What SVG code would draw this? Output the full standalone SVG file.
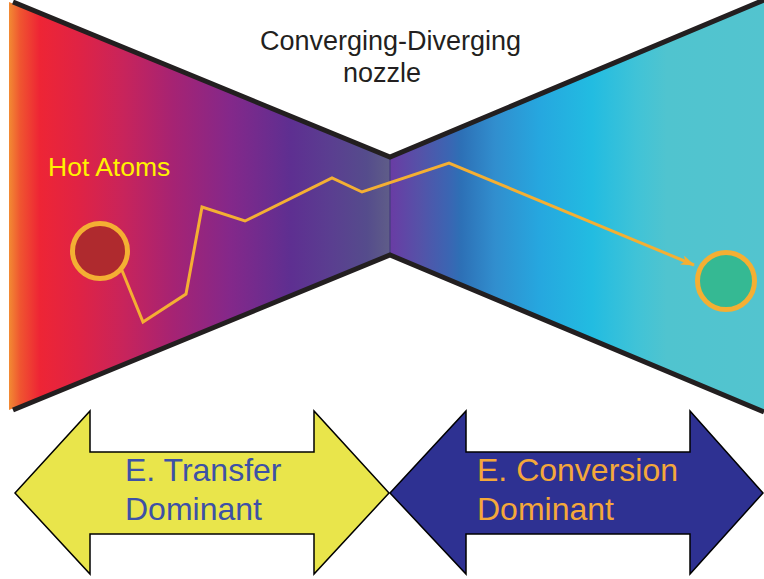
<svg xmlns="http://www.w3.org/2000/svg" width="764" height="579" viewBox="0 0 764 579">
  <style>
    .wall { fill: none; stroke: #231F20; stroke-width: 5; stroke-linejoin: miter; }
    .atom { stroke: #F4AF33; stroke-width: 5; }
    .path { fill: none; stroke: #F4AF33; stroke-width: 3; stroke-linejoin: miter; }
    .big { stroke: #000; stroke-width: 1.5; stroke-linejoin: miter; }
    .label { font-family: "Liberation Sans", Arial, sans-serif; }
  </style>
  <defs>
    <linearGradient id="gradConverge" gradientUnits="userSpaceOnUse" x1="9" y1="0" x2="390" y2="0">
      <stop offset="0" stop-color="#F28A33"/>
      <stop offset="0.03" stop-color="#EF5430"/>
      <stop offset="0.08" stop-color="#EE2535"/>
      <stop offset="0.18" stop-color="#E02344"/>
      <stop offset="0.30" stop-color="#C8245B"/>
      <stop offset="0.43" stop-color="#A62373"/>
      <stop offset="0.58" stop-color="#84288A"/>
      <stop offset="0.74" stop-color="#5E2F91"/>
      <stop offset="0.85" stop-color="#5A3F90"/>
      <stop offset="0.94" stop-color="#554C8C"/>
      <stop offset="1" stop-color="#5F5D88"/>
    </linearGradient>
    <linearGradient id="gradDiverge" gradientUnits="userSpaceOnUse" x1="390" y1="0" x2="764" y2="0">
      <stop offset="0" stop-color="#6A3CA4"/>
      <stop offset="0.08" stop-color="#5552A8"/>
      <stop offset="0.16" stop-color="#3A66B3"/>
      <stop offset="0.19" stop-color="#2D70B6"/>
      <stop offset="0.28" stop-color="#318ECE"/>
      <stop offset="0.40" stop-color="#26A7DF"/>
      <stop offset="0.54" stop-color="#22BCE1"/>
      <stop offset="0.66" stop-color="#40C3D7"/>
      <stop offset="0.74" stop-color="#50C4CF"/>
      <stop offset="1" stop-color="#53C4CF"/>
    </linearGradient>
    <marker id="barb" viewBox="0 0 14 10" refX="13" refY="5" markerWidth="14" markerHeight="10" markerUnits="userSpaceOnUse" orient="auto">
      <path d="M0,0 L14,5 L0,10 L3.5,5 Z" fill="#F4AF33"/>
    </marker>
  </defs>

  <!-- converging-diverging nozzle -->
  <g id="nozzle">
    <polygon points="9,2 390,157 390,255 9,410" fill="url(#gradConverge)"/>
    <polygon points="390,157 764,0 764,410 390,255" fill="url(#gradDiverge)"/>
    <line x1="390" y1="157" x2="390" y2="255" stroke="#4A3E82" stroke-width="1.5"/>
    <polyline class="wall" points="13,2 390,157 764,0"/>
    <polyline class="wall" points="13,410 390,255 764,412"/>
  </g>

  <!-- nozzle title -->
  <g id="title" class="label" fill="#231F20" font-size="27">
    <text x="260" y="50">Converging-Diverging</text>
    <text x="343" y="82">nozzle</text>
  </g>

  <!-- trajectory of the atom -->
  <g id="connectors">
    <polyline class="path" points="121,268 143,322 186,294 202,207 245,221 332,178 362,192 449,163 694,265" marker-end="url(#barb)"/>
  </g>

  <g id="hot-atom">
    <circle class="atom" cx="100" cy="251" r="27.5" fill="#AF2A2E"/>
    <text class="label" x="48" y="176" font-size="26.5" fill="#FFF200">Hot Atoms</text>
  </g>

  <g id="cold-atom">
    <circle class="atom" cx="726" cy="281" r="28.5" fill="#35B993"/>
  </g>

  <!-- regime arrows -->
  <g id="transfer-arrow">
    <polygon class="big" points="15,493 90,411 90,452 314,452 314,411 389,493 314,574 314,534 90,534 90,574" fill="#E9E54B"/>
    <text class="label" x="125" y="481" font-size="32" fill="#3D51A6">E. Transfer</text>
    <text class="label" x="125" y="520" font-size="32" fill="#3D51A6">Dominant</text>
  </g>

  <g id="conversion-arrow">
    <polygon class="big" points="390,493 466,411 466,452 690,452 690,411 763,493 690,574 690,534 466,534 466,574" fill="#2E3192"/>
    <text class="label" x="477" y="481" font-size="32" fill="#F4A83A">E. Conversion</text>
    <text class="label" x="477" y="520" font-size="32" fill="#F4A83A">Dominant</text>
  </g>
</svg>
